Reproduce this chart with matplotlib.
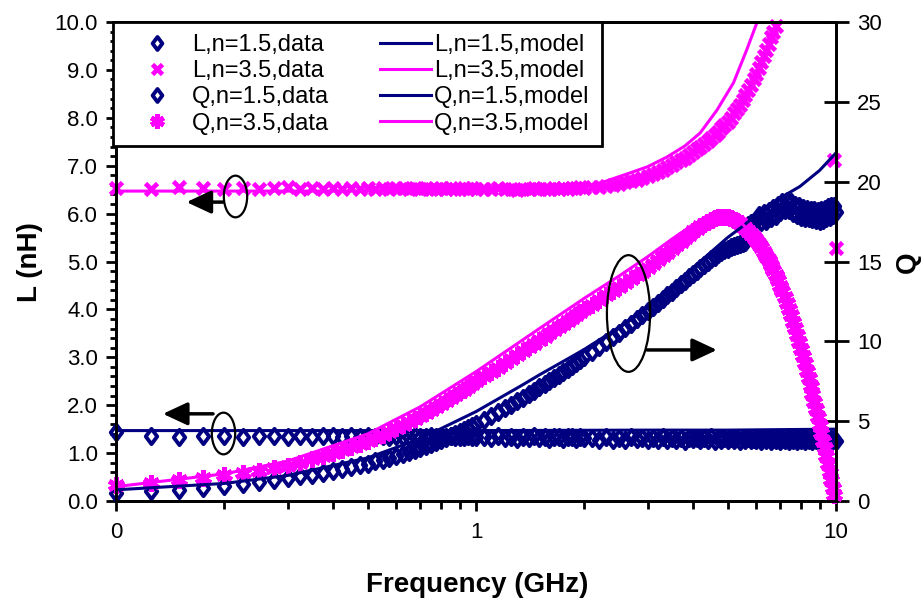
import numpy as np
import matplotlib
matplotlib.use("Agg")
import matplotlib.pyplot as plt
from matplotlib.path import Path
from matplotlib.transforms import Affine2D
from matplotlib.ticker import FixedLocator, FixedFormatter, LogLocator, MultipleLocator, NullFormatter
from matplotlib.legend_handler import HandlerLine2D

plt.rcParams['font.family'] = ['Liberation Sans', 'DejaVu Sans']

NAVY = '#000080'
MAGENTA = '#ff00ff'

# measurement frequencies (GHz): 25 MHz steps to 1 GHz, 50 MHz to 2 GHz, 100 MHz to 10 GHz
freq = np.round(np.r_[np.arange(0.1, 1.0001, 0.025),
                      np.arange(1.05, 2.0001, 0.05),
                      np.arange(2.1, 10.0001, 0.1)], 3)

# inductance (nH), n = 1.5 turns, measured
L15_data = [1.44, 1.35, 1.34, 1.36, 1.35, 1.34, 1.35, 1.36, 1.34, 1.35,
            1.34, 1.36, 1.35, 1.34, 1.35, 1.33, 1.35, 1.34, 1.36, 1.34,
            1.35, 1.33, 1.34, 1.35, 1.34, 1.33, 1.35, 1.34, 1.33, 1.34,
            1.35, 1.33, 1.34, 1.33, 1.35, 1.34, 1.33,
            1.34, 1.31, 1.35, 1.32, 1.34, 1.30, 1.34, 1.31, 1.35, 1.31,
            1.34, 1.30, 1.33, 1.34, 1.30, 1.33, 1.34, 1.30, 1.33, 1.32,
            1.31, 1.27, 1.33, 1.28, 1.32, 1.27, 1.33, 1.29, 1.31, 1.27,
            1.32, 1.28, 1.33, 1.27, 1.31, 1.28, 1.32, 1.26, 1.31, 1.29,
            1.32, 1.27, 1.31, 1.28, 1.33, 1.26, 1.31, 1.28, 1.32, 1.27,
            1.31, 1.28, 1.32, 1.26, 1.31, 1.28, 1.32, 1.27, 1.30, 1.28,
            1.32, 1.26, 1.31, 1.27, 1.32, 1.26, 1.30, 1.28, 1.31, 1.26,
            1.30, 1.27, 1.31, 1.26, 1.30, 1.27, 1.31, 1.26, 1.30, 1.27,
            1.31, 1.26, 1.30, 1.27, 1.31, 1.25, 1.30, 1.27, 1.31, 1.26,
            1.30, 1.26, 1.31, 1.27, 1.30, 1.25, 1.30, 1.27, 1.30, 1.26]

# inductance (nH), n = 3.5 turns, measured
L35_data = [6.54, 6.52, 6.55, 6.53, 6.51, 6.54, 6.52, 6.53, 6.55, 6.52,
            6.53, 6.51, 6.54, 6.52, 6.53, 6.52, 6.54, 6.51, 6.53, 6.52,
            6.54, 6.53, 6.51, 6.53, 6.52, 6.54, 6.52, 6.51, 6.53, 6.52,
            6.54, 6.52, 6.51, 6.53, 6.52, 6.53, 6.51,
            6.52, 6.51, 6.53, 6.51, 6.52, 6.50, 6.52, 6.51, 6.53, 6.51,
            6.52, 6.51, 6.53, 6.52, 6.53, 6.52, 6.54, 6.53, 6.55, 6.54,
            6.55, 6.56, 6.58, 6.60, 6.62, 6.65, 6.68, 6.71, 6.75, 6.79,
            6.83, 6.87, 6.92, 6.97, 7.02, 7.07, 7.12, 7.17, 7.23, 7.28,
            7.34, 7.40, 7.46, 7.52, 7.58, 7.64, 7.71, 7.78, 7.85, 7.92,
            8.00, 8.09, 8.18, 8.27, 8.37, 8.47, 8.58, 8.69, 8.80, 8.92,
            9.05, 9.17, 9.30, 9.42, 9.55, 9.68, 9.80, 9.92, 10.05, 10.18,
            10.32, 10.5, 10.7, 10.9, 11.1, 11.4, 11.7, 12.0, 12.4, 12.8,
            13.3, 13.8, 14.4, 15.0, 15.7, 16.5, 17.4, 18.5, 19.8, 21.3,
            23.1, 25.2, 27.5, 29.6, 30.8, 29.4, 24.1, 14.6, 7.12, 5.28]

# quality factor, n = 1.5 turns, measured
Q15_data = [0.50, 0.60, 0.69, 0.83, 0.93, 1.07, 1.17, 1.31, 1.41, 1.55,
            1.64, 1.78, 1.87, 2.01, 2.11, 2.24, 2.34, 2.48, 2.58, 2.71,
            2.81, 2.96, 3.06, 3.20, 3.30, 3.45, 3.55, 3.70, 3.80, 3.95,
            4.06, 4.20, 4.31, 4.46, 4.57, 4.72, 4.83,
            5.09, 5.33, 5.57, 5.80, 6.03, 6.26, 6.48, 6.70, 6.91, 7.12,
            7.32, 7.52, 7.72, 7.91, 8.10, 8.29, 8.47, 8.65, 8.83, 9.00,
            9.33, 9.65, 9.96, 10.26, 10.55, 10.84, 11.11, 11.38, 11.65, 11.91,
            12.16, 12.41, 12.65, 12.89, 13.12, 13.35, 13.57, 13.79, 14.00, 14.21,
            14.41, 14.60, 14.79, 14.97, 15.14, 15.30, 15.45, 15.58, 15.70, 15.80,
            15.88, 15.95, 16.02, 16.08, 16.14, 16.20, 17.30, 17.42, 17.50, 17.58,
            17.90, 17.45, 18.05, 17.55, 18.15, 17.70, 18.35, 17.85, 18.55, 18.10,
            18.75, 18.20, 18.80, 18.25, 18.70, 18.05, 18.55, 17.90, 18.45, 17.80,
            18.35, 17.75, 18.30, 17.70, 18.25, 17.65, 18.20, 17.60, 18.15, 17.55,
            18.20, 17.60, 18.30, 17.70, 18.40, 17.80, 18.45, 17.90, 18.50, 18.10]

# quality factor, n = 3.5 turns, measured
Q35_data = [1.00, 1.15, 1.30, 1.45, 1.60, 1.75, 1.90, 2.05, 2.20, 2.40,
            2.60, 2.80, 3.00, 3.19, 3.38, 3.56, 3.75, 3.95, 4.15, 4.35,
            4.55, 4.75, 4.95, 5.15, 5.35, 5.54, 5.73, 5.91, 6.10, 6.28,
            6.45, 6.63, 6.80, 6.98, 7.15, 7.33, 7.50,
            7.80, 8.08, 8.36, 8.62, 8.88, 9.13, 9.38, 9.62, 9.85, 10.08,
            10.30, 10.51, 10.72, 10.92, 11.11, 11.30, 11.48, 11.66, 11.83, 12.00,
            12.30, 12.60, 12.88, 13.15, 13.40, 13.65, 13.89, 14.13, 14.37, 14.60,
            14.84, 15.08, 15.32, 15.56, 15.80, 16.02, 16.24, 16.46, 16.68, 16.90,
            17.06, 17.21, 17.35, 17.48, 17.60, 17.70, 17.77, 17.80, 17.80, 17.77,
            17.71, 17.62, 17.51, 17.38, 17.24, 17.08, 16.91, 16.73, 16.54, 16.34,
            16.12, 15.88, 15.62, 15.35, 15.07, 14.78, 14.47, 14.15, 13.82, 13.48,
            13.13, 12.77, 12.40, 12.02, 11.63, 11.23, 10.82, 10.40, 9.97, 9.53,
            9.08, 8.62, 8.15, 7.68, 7.20, 6.72, 6.23, 5.74, 5.25, 4.76,
            4.27, 3.78, 3.29, 2.80, 2.31, 1.82, 1.33, 0.84, 0.35, -0.14]

# model curves
L15_model_f = [0.1, 1.0, 3.0, 5.0, 7.0, 10.0]
L15_model = [1.47, 1.47, 1.48, 1.48, 1.49, 1.50]

L35_model_f = [0.1, 0.5, 1.0, 1.5, 2.0, 2.2, 2.68, 3.0, 3.39, 3.8, 4.19, 4.67, 5.19, 5.65, 6.04, 6.3]
L35_model = [6.47, 6.47, 6.48, 6.51, 6.57, 6.63, 6.85, 6.98, 7.18, 7.41, 7.68, 8.16, 8.73, 9.42, 10.0, 10.5]

Q15_model_f = [0.1, 0.2, 0.3, 0.5, 0.7, 1.0, 1.33, 1.5, 1.83, 2.0, 2.35, 2.8, 3.0, 3.5, 4.0, 4.5,
               5.0, 5.5, 6.0, 6.66, 7.94, 9.0, 10.0]
Q15_model = [0.7, 1.1, 1.6, 2.7, 3.9, 5.6, 7.2, 7.9, 9.0, 9.5, 10.5, 11.6, 12.1, 13.4, 14.6, 15.6,
             16.5, 17.2, 17.9, 18.7, 19.7, 20.7, 21.8]

Q35_model_f = [0.1, 0.2, 0.3, 0.5, 0.7, 1.0, 1.5, 2.0, 2.5, 3.0, 3.5, 4.0, 4.5, 5.0, 5.5, 6.0,
               6.5, 7.0, 7.5, 8.0, 8.5, 9.0, 9.5, 10.0]
Q35_model = [0.9, 1.7, 2.5, 4.2, 5.9, 8.1, 10.8, 12.7, 14.1, 15.3, 16.4, 17.3, 17.85, 17.9, 17.35, 16.4,
             15.1, 13.5, 11.65, 9.55, 7.2, 4.75, 2.3, -0.2]

# axis ticks
x_ticks = [0.1, 1, 10]
x_tick_labels = ['0', '1', '10']
L_ticks = [0, 1, 2, 3, 4, 5, 6, 7, 8, 9, 10]
L_tick_labels = ['0.0', '1.0', '2.0', '3.0', '4.0', '5.0', '6.0', '7.0', '8.0', '9.0', '10.0']
Q_ticks = [0, 5, 10, 15, 20, 25, 30]
Q_tick_labels = ['0', '5', '10', '15', '20', '25', '30']

series_labels = ['L,n=1.5,data', 'L,n=3.5,data', 'Q,n=1.5,data', 'Q,n=3.5,data',
                 'L,n=1.5,model', 'L,n=3.5,model', 'Q,n=1.5,model', 'Q,n=3.5,model']

L_LIM = (0, 10)
Q_LIM = (0, 30)


def in_range(values, lim):
    v = np.asarray(values, dtype=float)
    return np.where((v >= lim[0]) & (v <= lim[1]), v, np.nan)


fig = plt.figure(figsize=(9.21, 6.02), dpi=100)
ax = fig.add_axes([116 / 921, 101 / 602, 720 / 921, 479 / 602])
ax2 = ax.twinx()

diamond = Path([(0, 1), (0.75, 0), (0, -1), (-0.75, 0), (0, 1)],
               [Path.MOVETO, Path.LINETO, Path.LINETO, Path.LINETO, Path.CLOSEPOLY])
asterisk = (6, 2, 0)

# measured points (markers stay whole at the plot edges)
h_L15d, = ax.plot(freq, in_range(L15_data, L_LIM), ls='none', marker=diamond, ms=11,
                  mfc='none', mec=NAVY, mew=2.8, clip_on=False)
h_L35d, = ax.plot(freq, in_range(L35_data, L_LIM), ls='none', marker='x', ms=9,
                  mec=MAGENTA, mew=3.4, clip_on=False)
h_Q15d, = ax2.plot(freq, in_range(Q15_data, Q_LIM), ls='none', marker=diamond, ms=11,
                   mfc='none', mec=NAVY, mew=2.8, clip_on=False)
h_Q35d, = ax2.plot(freq, in_range(Q35_data, Q_LIM), ls='none', marker=asterisk, ms=12,
                   mec=MAGENTA, mew=3.5, clip_on=False)

# model curves
h_L15m, = ax.plot(L15_model_f, L15_model, color=NAVY, lw=2.2)
h_L35m, = ax.plot(L35_model_f, L35_model, color=MAGENTA, lw=2.2)
h_Q15m, = ax2.plot(Q15_model_f, Q15_model, color=NAVY, lw=2.2)
h_Q35m, = ax2.plot(Q35_model_f, Q35_model, color=MAGENTA, lw=2.2)

ax.set_xscale('log')
ax.set_xlim(0.1, 10)
ax.set_ylim(*L_LIM)
ax2.set_ylim(*Q_LIM)

ax.xaxis.set_major_locator(FixedLocator(x_ticks))
ax.xaxis.set_major_formatter(FixedFormatter(x_tick_labels))
ax.xaxis.set_minor_locator(LogLocator(base=10, subs=np.arange(2, 10)))
ax.xaxis.set_minor_formatter(NullFormatter())
ax.yaxis.set_major_locator(FixedLocator(L_ticks))
ax.yaxis.set_major_formatter(FixedFormatter(L_tick_labels))
ax.yaxis.set_minor_locator(MultipleLocator(0.2))
ax2.yaxis.set_major_locator(FixedLocator(Q_ticks))
ax2.yaxis.set_major_formatter(FixedFormatter(Q_tick_labels))

ax.tick_params(axis='x', which='major', direction='out', length=7, width=2, pad=8, labelsize=16)
ax.tick_params(axis='x', which='minor', direction='out', length=6, width=2)
ax.tick_params(axis='y', which='major', direction='out', length=7, width=2, pad=6, labelsize=16)
ax.tick_params(axis='y', which='minor', direction='out', length=4, width=2)
ax2.tick_params(axis='y', which='major', direction='inout', length=18, width=2, pad=6, labelsize=16)

for a in (ax, ax2):
    for sp in a.spines.values():
        sp.set_linewidth(2)
        sp.set_color('black')

# annotation: ellipses around curve groups with arrows toward their axis
ellipse_tall = Path.unit_circle().transformed(Affine2D().scale(0.56, 1.0))
ellipse_long = Path.unit_circle().transformed(Affine2D().scale(0.37, 1.0))
arrow_style = dict(arrowstyle='-|>,head_length=1.5,head_width=0.7', lw=2.5, color='black',
                   shrinkA=0, shrinkB=0, mutation_scale=10)

ax.plot([0.214], [6.37], marker=ellipse_tall, ms=30, mfc='none', mec='black', mew=1.6,
        ls='none', clip_on=False)
ax.annotate('', xy=(0.157, 6.24), xytext=(0.198, 6.24), arrowprops=arrow_style)

ax.plot([0.198], [1.42], marker=ellipse_tall, ms=30, mfc='none', mec='black', mew=1.6,
        ls='none', clip_on=False)
ax.annotate('', xy=(0.135, 1.82), xytext=(0.186, 1.82), arrowprops=arrow_style)

ax2.plot([2.64], [11.8], marker=ellipse_long, ms=84, mfc='none', mec='black', mew=1.6,
         ls='none', clip_on=False)
ax2.annotate('', xy=(4.67, 9.46), xytext=(2.99, 9.46), arrowprops=arrow_style)

# axis titles
fig.text(30 / 921, 1 - 262 / 602, 'L (nH)', rotation=90, ha='center', va='center',
         fontsize=20, fontweight='bold')
fig.text(908 / 921, 1 - 262 / 602, 'Q', rotation=90, ha='center', va='center',
         fontsize=20, fontweight='bold')
fig.text(477 / 921, 1 - 585 / 602, 'Frequency (GHz)', ha='center', va='center',
         fontsize=20, fontweight='bold')

# legend
handles = [h_L15d, h_L35d, h_Q15d, h_Q35d, h_L15m, h_L35m, h_Q15m, h_Q35m]
line_handler = HandlerLine2D(xpad=0.55)
leg = ax2.legend(handles, series_labels, ncol=2, loc='upper left',
                 bbox_to_anchor=(-3 / 720, 1.0), borderaxespad=0, fontsize=17,
                 frameon=True, fancybox=False, edgecolor='black', framealpha=1,
                 borderpad=0.5, handlelength=2.7, handletextpad=0.15,
                 columnspacing=1.6, labelspacing=0.18, markerscale=0.85,
                 handler_map={h_L15m: line_handler, h_L35m: line_handler,
                              h_Q15m: line_handler, h_Q35m: line_handler})
leg.get_frame().set_linewidth(2)
leg.set_zorder(10)

fig.savefig('out.png', dpi=100)
